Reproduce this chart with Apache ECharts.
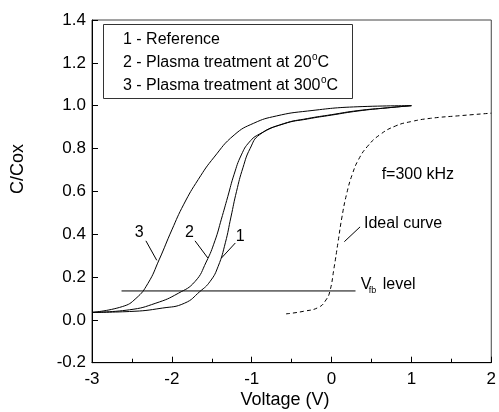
<!DOCTYPE html>
<html>
<head>
<meta charset="utf-8">
<script src="https://cdn.jsdelivr.net/npm/echarts@6/dist/echarts.min.js"></script>
<style>html,body{margin:0;padding:0;background:#fff}#c{width:499px;height:412px}</style>
</head>
<body>
<div id="c"></div>
<script>
// Curve 1 - Reference
const v1 = [-3, -2.53, -2.12, -1.84, -1.65, -1.52, -1.42, -1.33, -1.26, -1.19, -1.11, -1.02, -0.9, -0.6, -0.3, 0, 0.33, 0.7, 1.0];
const c1 = [0.035, 0.039, 0.055, 0.078, 0.132, 0.18, 0.25, 0.36, 0.48, 0.6, 0.71, 0.8, 0.865, 0.915, 0.938, 0.956, 0.975, 0.99, 1.0];
// Curve 2 - Plasma treatment at 20 C
const v2 = [-3, -2.53, -2.2, -1.92, -1.71, -1.57, -1.46, -1.38, -1.30, -1.22, -1.13, -1.03, -0.9, -0.6, -0.3, 0, 0.33, 0.7, 1.0];
const c2 = [0.035, 0.047, 0.078, 0.124, 0.179, 0.27, 0.37, 0.47, 0.575, 0.68, 0.77, 0.83, 0.868, 0.916, 0.94, 0.958, 0.977, 0.99, 1.0];
// Curve 3 - Plasma treatment at 300 C
const v3 = [-3, -2.62, -2.45, -2.3, -2.16, -2.0, -1.85, -1.67, -1.47, -1.22, -0.975, -0.69, -0.3, 0.33, 1.0];
const c3 = [0.035, 0.062, 0.1, 0.17, 0.28, 0.42, 0.54, 0.655, 0.76, 0.863, 0.918, 0.952, 0.975, 0.995, 1.0];
// Ideal curve (dashed)
const vIdeal = [-0.57, -0.35, -0.16, -0.07, -0.02, 0.03, 0.08, 0.13, 0.19, 0.26, 0.34, 0.45, 0.6, 0.8, 1.0, 1.24, 1.6, 2.0];
const cIdeal = [0.028, 0.04, 0.059, 0.093, 0.135, 0.24, 0.36, 0.48, 0.59, 0.68, 0.75, 0.81, 0.863, 0.905, 0.926, 0.941, 0.953, 0.965];
// Vfb level line
const vfbV = [-2.63, 0.30];
const vfbC = [0.135, 0.135];
// tick labels
const xTicks = [-3, -2, -1, 0, 1, 2];
const yTicks = [-0.2, 0.0, 0.2, 0.4, 0.6, 0.8, 1.0, 1.2, 1.4];

const zip = (a, b) => a.map((x, i) => [x, b[i]]);
const FONT = 'Liberation Sans, Arial, sans-serif';
const chart = echarts.init(document.getElementById('c'));

const lineS = (name, v, c, dashed) => ({
  name, type: 'line', data: zip(v, c), symbol: 'none', smooth: 0.5,
  lineStyle: { color: '#000', width: 1, type: dashed ? [4, 3] : 'solid' }, silent: true, animation: false
});
const seg = (pts) => ({ type: 'line', data: pts, symbol: 'none', lineStyle: { color: '#000', width: 1 }, silent: true, animation: false });

chart.setOption({
  animation: false,
  grid: { left: 92, top: 20, width: 406.5, height: 342.7, show: true, borderColor: '#444', borderWidth: 1, backgroundColor: 'transparent' },
  xAxis: {
    type: 'value', min: -3, max: 2, interval: 1,
    axisLine: { onZero: false, lineStyle: { color: '#000', width: 1 } },
    axisTick: { inside: true, length: 6, lineStyle: { color: '#000' } },
    minorTick: { show: true, splitNumber: 2, length: 4, lineStyle: { color: '#000' } },
    splitLine: { show: false },
    axisLabel: { color: '#000', fontSize: 17, fontFamily: FONT, margin: 8,
      formatter: v => xTicks.includes(v) ? String(v) : '' }
  },
  yAxis: {
    type: 'value', min: -0.2, max: 1.4, interval: 0.2,
    axisLine: { onZero: false, lineStyle: { color: '#000', width: 1 } },
    axisTick: { inside: true, length: 6, lineStyle: { color: '#000' } },
    splitLine: { show: false },
    axisLabel: { color: '#000', fontSize: 17, fontFamily: FONT, margin: 6,
      formatter: v => yTicks.some(t => Math.abs(t - v) < 1e-9) ? v.toFixed(1) : '' }
  },
  series: [
    lineS('1', v1, c1), lineS('2', v2, c2), lineS('3', v3, c3), lineS('ideal', vIdeal, cIdeal, true),
    seg(zip(vfbV, vfbC)),
    seg([[-2.325, 0.369], [-2.189, 0.278]]),
    seg([[-1.710, 0.369], [-1.55, 0.289]]),
    seg([[-1.205, 0.359], [-1.378, 0.289]]),
    seg([[0.16, 0.365], [0.357, 0.434]])
  ]
});

const P = (x, y) => chart.convertToPixel({ gridIndex: 0 }, [x, y]);
const txt = (s, pt, opts) => Object.assign({
  type: 'text', x: pt[0], y: pt[1], silent: true,
  style: Object.assign({ text: s, fill: '#000', font: '16px ' + FONT, textAlign: 'left', textVerticalAlign: 'middle' }, (opts || {}).style || {})
}, (opts || {}).el || {});

const ctx = document.createElement('canvas').getContext('2d');
ctx.font = '16px ' + FONT;
const legendLines = [
  { main: '1 - Reference', y: 40 },
  { main: '2 - Plasma treatment at 20', y: 63, deg: true },
  { main: '3 - Plasma treatment at 300', y: 86, deg: true }
];
const legendEls = [];
legendLines.forEach(l => {
  legendEls.push({ type: 'text', x: 123, y: l.y, z: 11, silent: true, style: { text: l.main, fill: '#000', font: '16px ' + FONT, textVerticalAlign: 'middle' } });
  if (l.deg) {
    const w = ctx.measureText(l.main).width;
    legendEls.push({ type: 'text', x: 123 + w + 0.5, y: l.y - 6, z: 11, silent: true, style: { text: 'o', fill: '#000', font: '10px ' + FONT, textVerticalAlign: 'middle' } });
    legendEls.push({ type: 'text', x: 123 + w + 6, y: l.y, z: 11, silent: true, style: { text: 'C', fill: '#000', font: '16px ' + FONT, textVerticalAlign: 'middle' } });
  }
});

const p3 = P(-2.41, 0.406), p2 = P(-1.78, 0.406), p1 = P(-1.144, 0.387);
const pIdeal = P(0.406, 0.448), pF = P(0.627, 0.677), pV = P(0.365, 0.163);

chart.setOption({
  graphic: [
    { type: 'rect', shape: { x: 103.5, y: 24.5, width: 249, height: 74 }, style: { fill: '#fff', stroke: '#333', lineWidth: 1 }, silent: true, z: 10 }
  ].concat(legendEls, [
    txt('3', p3, { style: { textAlign: 'center' } }),
    txt('2', p2, { style: { textAlign: 'center' } }),
    txt('1', p1, { style: { textAlign: 'center' } }),
    txt('Ideal curve', pIdeal),
    txt('f=300 kHz', pF),
    { type: 'text', x: pV[0], y: pV[1], silent: true, style: { text: 'V', fill: '#000', font: '16px ' + FONT, textVerticalAlign: 'middle' } },
    { type: 'text', x: pV[0] + 8, y: pV[1] + 6, silent: true, style: { text: 'fb', fill: '#000', font: '9px ' + FONT, textVerticalAlign: 'middle' } },
    { type: 'text', x: pV[0] + 22, y: pV[1], silent: true, style: { text: 'level', fill: '#000', font: '16px ' + FONT, textVerticalAlign: 'middle' } },
    { type: 'text', x: 18, y: 169, rotation: Math.PI / 2, silent: true, style: { text: 'C/Cox', fill: '#000', font: '18px ' + FONT, textAlign: 'center', textVerticalAlign: 'middle' } },
    { type: 'text', x: 285, y: 400, silent: true, style: { text: 'Voltage (V)', fill: '#000', font: '18px ' + FONT, textAlign: 'center', textVerticalAlign: 'middle' } }
  ])
});
</script>
</body>
</html>
